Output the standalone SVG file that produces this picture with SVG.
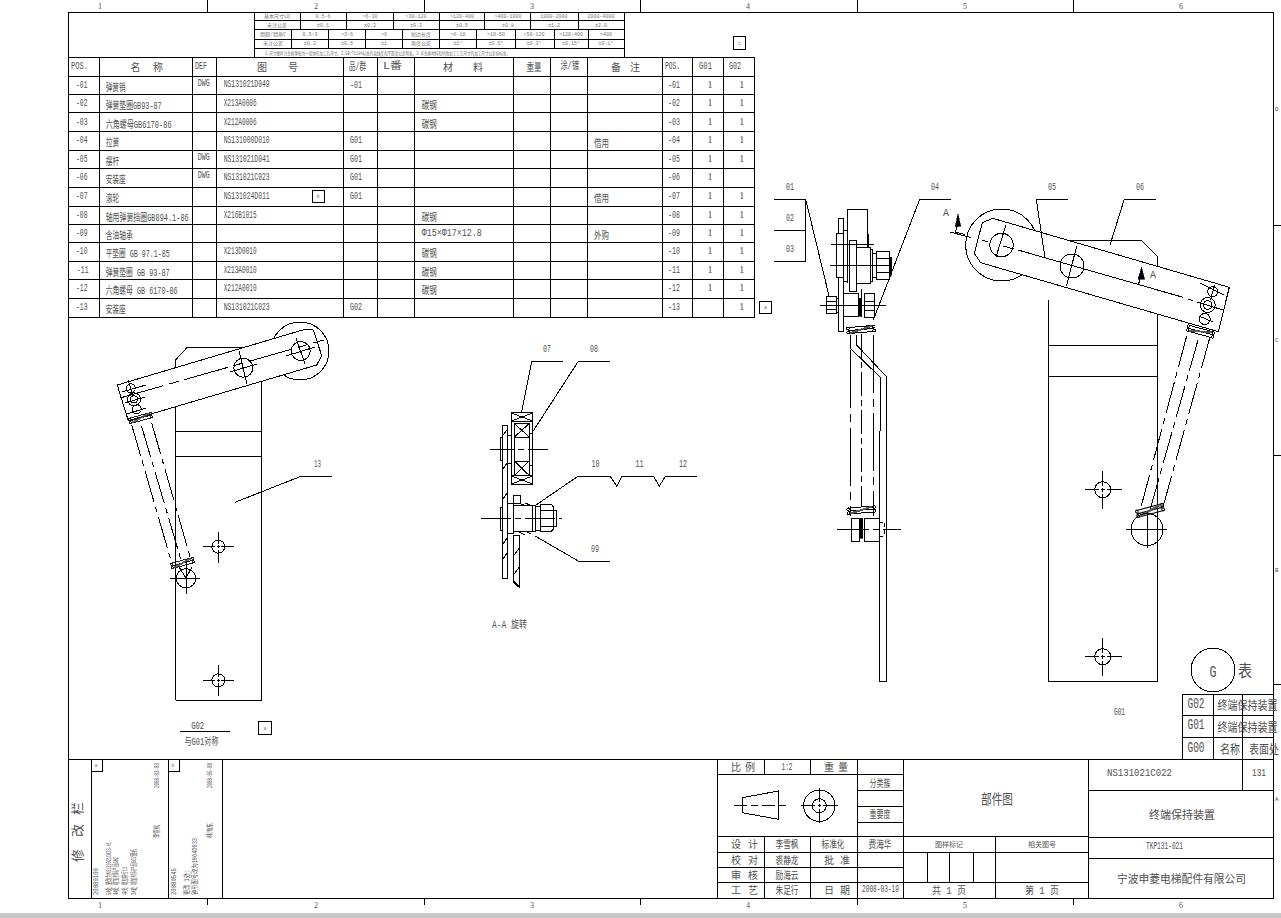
<svg xmlns="http://www.w3.org/2000/svg" width="1281" height="918" viewBox="0 0 1281 918" shape-rendering="crispEdges">
<style>
text{font-family:"Liberation Mono","Noto Sans CJK SC",monospace;font-size:10px;fill:#505050}
.s{font-size:5px;fill:#777}
.m{font-size:7px;fill:#555}
.h{font-size:10px}
.c{text-anchor:middle}
.q{text-anchor:middle;font-family:"Liberation Serif","Noto Sans CJK SC",serif}
.z{text-anchor:middle;font-family:"Liberation Serif",serif;font-size:8px}
.y{font-size:6px}
.k{fill:none;stroke:#000;stroke-width:1}
.f{fill:#fff;stroke:#000;stroke-width:1}
.d{fill:#000;stroke:#000;stroke-width:.6}
.ph{fill:none;stroke:#000;stroke-width:1;stroke-dasharray:32 5 6 5}
.cl{fill:none;stroke:#000;stroke-width:1;stroke-dasharray:45 6 10 6}
.da{fill:none;stroke:#000;stroke-width:1;stroke-dasharray:4 3}
</style>
<defs>
<g id="coil" class="k"><path d="M-13-3L13-3M-13 0L13 0M-13 3L13 3"/><circle cx="-13" cy="-2" r="1.3"/><circle cx="-13" cy="2" r="1.3"/><circle cx="13" cy="-2" r="1.3"/><circle cx="13" cy="2" r="1.3"/><path d="M-11 2L11-3M-11 3L11-2" stroke="#555"/></g>
<g id="hole"><circle class="k" r="8"/><path class="k" d="M-18 0H-4M4 0H19M0-19V-4M0 4V19M-2 0H2M0-2V2"/></g>
<g id="hole2"><circle class="k" r="6.5"/><path class="k" d="M-15 0H-3M3 0H16M0-15V-3M0 3V16M-1.500 0H1.500M0-1.500V1.500"/></g>
</defs>
<rect id="band" x="0" y="913" width="1281" height="5" fill="#c8c8c8"/>
<g id="frame">
<path class="k" d="M68 12H1273V898H68ZM207 0V12M424 0V12M640 0V12M857 0V12M1073 0V12M207 898V905M424 898V905M640 898V905M857 898V905M1073 898V905M1273 225H1281M1273 455H1281M1273 684H1281"/>
</g>
<g id="zones">
<text x="100" y="9" class="z">1</text><text x="316" y="9" class="z">2</text><text x="532" y="9" class="z">3</text><text x="748" y="9" class="z">4</text><text x="965" y="9" class="z">5</text><text x="1181" y="9" class="z">6</text>
<text x="100" y="908" class="z">1</text><text x="316" y="908" class="z">2</text><text x="532" y="908" class="z">3</text><text x="748" y="908" class="z">4</text><text x="965" y="908" class="z">5</text><text x="1181" y="908" class="z">6</text>
<text class="y" x="1275" y="111">D</text><text class="y" x="1275" y="342">C</text><text class="y" x="1275" y="572">B</text><text class="y" x="1275" y="801">A</text>
</g>
<g id="tolerance-table">
<path class="k" d="M254.500 11.500V57M624.500 11.500V57M254.500 20.700H624.500M254.500 29.700H624.500M254.500 39H624.500M254.500 48H624.500M300 11.500V29.700M346 11.500V29.700M393.300 11.500V29.700M439 11.500V48M484.700 11.500V29.700M530.700 11.500V29.700M578.300 11.500V29.700M291.700 29.700V48M328.300 29.700V48M365.300 29.700V48M402.700 29.700V48M476.700 29.700V48M515 29.700V48M554 29.700V48M588.300 29.700V48"/>
<g class="s">
<text class="s c" x="277" y="18">基本尺寸LD</text><text class="s c" x="323" y="18">0.5-6</text><text class="s c" x="370" y="18">&gt;6-30</text><text class="s c" x="416" y="18">&gt;30-120</text><text class="s c" x="462" y="18">&gt;120-400</text><text class="s c" x="508" y="18">&gt;400-1000</text><text class="s c" x="554" y="18">1000-2000</text><text class="s c" x="601" y="18">2000-4000</text>
<text class="s c" x="277" y="27">未注公差</text><text class="s c" x="323" y="27">±0.1</text><text class="s c" x="370" y="27">±0.2</text><text class="s c" x="416" y="27">±0.3</text><text class="s c" x="462" y="27">±0.5</text><text class="s c" x="508" y="27">±0.8</text><text class="s c" x="554" y="27">±1.2</text><text class="s c" x="601" y="27">±2.0</text>
<text class="s c" x="273" y="36">倒圆/倒角C</text><text class="s c" x="310" y="36">0.5-3</text><text class="s c" x="347" y="36">&gt;3-6</text><text class="s c" x="384" y="36">&gt;6</text><text class="s c" x="421" y="36">短边长度</text><text class="s c" x="458" y="36">&gt;6-10</text><text class="s c" x="496" y="36">&gt;10-50</text><text class="s c" x="534" y="36">&gt;50-120</text><text class="s c" x="571" y="36">&gt;120-400</text><text class="s c" x="606" y="36">&gt;400</text>
<text class="s c" x="273" y="45">未注公差</text><text class="s c" x="310" y="45">±0.2</text><text class="s c" x="347" y="45">±0.5</text><text class="s c" x="384" y="45">±1</text><text class="s c" x="421" y="45">角度公差</text><text class="s c" x="458" y="45">±1°</text><text class="s c" x="496" y="45">±0.5°</text><text class="s c" x="534" y="45">±0.3°</text><text class="s c" x="571" y="45">±0.15°</text><text class="s c" x="606" y="45">±0.1°</text>
<text class="s" x="265" y="54.500" textLength="245" lengthAdjust="spacingAndGlyphs">1.尺寸图样注金属薄板为一般钟形加工后尺寸。2.GB/T1184标准的直线度和平面度公差附表。3.非金属材料和特殊加工工艺尺寸的加工尺寸公差按标准。</text>
</g>
</g>
<g id="rev-c"><rect class="k" x="733.500" y="36.500" width="12" height="12.500"/><text class="s c" x="739.500" y="45">c</text></g>
<g id="parts-table">
<path class="k" d="M68 57H754.500V317H68M68 76H754.500M68 94H754.500M68 112.500H754.500M68 131H754.500M68 150H754.500M68 168H754.500M68 187H754.500M68 206H754.500M68 224H754.500M68 242H754.500M68 261H754.500M68 279H754.500M68 298H754.500M99.300 57V317M192.700 57V317M216 57V317M343 57V317M377 57V317M414 57V317M513 57V317M550 57V317M587 57V317M662 57V317M692 57V317M723 57V317"/>
<g id="parts-head">
<text x="71" y="69" textLength="17" lengthAdjust="spacingAndGlyphs">POS.</text>
<text class="h" x="130.500 153" y="71">名称</text>
<text x="195" y="69" textLength="12" lengthAdjust="spacingAndGlyphs">DEF</text>
<text class="h" x="257 288" y="71">图号</text>
<text x="349" y="70" textLength="17" lengthAdjust="spacingAndGlyphs">品/群</text>
<text x="383" y="69" textLength="19" lengthAdjust="spacingAndGlyphs">L番</text>
<text class="h" x="443 473" y="71">材料</text>
<text x="526.500" y="71" textLength="15" lengthAdjust="spacingAndGlyphs">重量</text>
<text x="560.500" y="69" textLength="18.500" lengthAdjust="spacingAndGlyphs">涂/镀</text>
<text class="h" x="611 630" y="71">备注</text>
<text x="665" y="69" textLength="15" lengthAdjust="spacingAndGlyphs">POS.</text>
<text x="699" y="69" textLength="13" lengthAdjust="spacingAndGlyphs">G01</text>
<text x="729" y="69" textLength="12" lengthAdjust="spacingAndGlyphs">G02</text>
</g>
<g id="parts-pos">
<text x="76" y="88" textLength="11.500" lengthAdjust="spacingAndGlyphs">-01</text>
<text x="76" y="106" textLength="11.500" lengthAdjust="spacingAndGlyphs">-02</text>
<text x="76" y="124.500" textLength="11.500" lengthAdjust="spacingAndGlyphs">-03</text>
<text x="76" y="143" textLength="11.500" lengthAdjust="spacingAndGlyphs">-04</text>
<text x="76" y="162" textLength="11.500" lengthAdjust="spacingAndGlyphs">-05</text>
<text x="76" y="180" textLength="11.500" lengthAdjust="spacingAndGlyphs">-06</text>
<text x="76" y="199" textLength="11.500" lengthAdjust="spacingAndGlyphs">-07</text>
<text x="76" y="218" textLength="11.500" lengthAdjust="spacingAndGlyphs">-08</text>
<text x="76" y="236" textLength="11.500" lengthAdjust="spacingAndGlyphs">-09</text>
<text x="76" y="254" textLength="11.500" lengthAdjust="spacingAndGlyphs">-10</text>
<text x="77" y="273" textLength="11.500" lengthAdjust="spacingAndGlyphs">-11</text>
<text x="76" y="291" textLength="11.500" lengthAdjust="spacingAndGlyphs">-12</text>
<text x="76" y="310" textLength="11.500" lengthAdjust="spacingAndGlyphs">-13</text>
</g>
<g id="parts-names">
<text x="105.700" y="91" textLength="20" lengthAdjust="spacingAndGlyphs">弹簧销</text>
<text x="105.700" y="109" textLength="56" lengthAdjust="spacingAndGlyphs">弹簧垫圈GB93-87</text>
<text x="105.700" y="127.500" textLength="66" lengthAdjust="spacingAndGlyphs">六角螺母GB6170-86</text>
<text x="105.700" y="146" textLength="13.500" lengthAdjust="spacingAndGlyphs">拉簧</text>
<text x="105.700" y="165" textLength="13.500" lengthAdjust="spacingAndGlyphs">摆杆</text>
<text x="105.700" y="183" textLength="20" lengthAdjust="spacingAndGlyphs">安装座</text>
<text x="105.700" y="202" textLength="13.500" lengthAdjust="spacingAndGlyphs">滚轮</text>
<text x="105.700" y="221" textLength="83" lengthAdjust="spacingAndGlyphs">轴用弹簧挡圈GB894.1-86</text>
<text x="105.700" y="239" textLength="27" lengthAdjust="spacingAndGlyphs">含油轴承</text>
<text x="105.700" y="257" textLength="64" lengthAdjust="spacingAndGlyphs">平垫圈 GB 97.1-85</text>
<text x="105.700" y="276" textLength="64" lengthAdjust="spacingAndGlyphs">弹簧垫圈 GB 93-87</text>
<text x="105.700" y="294" textLength="72" lengthAdjust="spacingAndGlyphs">六角螺母 GB 6170-86</text>
<text x="105.700" y="313" textLength="20" lengthAdjust="spacingAndGlyphs">安装座</text>
</g>
<g id="parts-def">
<text x="197.700" y="86" textLength="12" lengthAdjust="spacingAndGlyphs">DWG</text>
<text x="197.700" y="160" textLength="12" lengthAdjust="spacingAndGlyphs">DWG</text>
<text x="197.700" y="178" textLength="12" lengthAdjust="spacingAndGlyphs">DWG</text>
</g>
<g id="parts-dwg">
<text x="223.700" y="87" textLength="46" lengthAdjust="spacingAndGlyphs">NS131021D049</text>
<text x="223.700" y="106" textLength="33" lengthAdjust="spacingAndGlyphs">X213A0006</text>
<text x="223.700" y="124.500" textLength="33" lengthAdjust="spacingAndGlyphs">X212A0006</text>
<text x="223.700" y="143" textLength="46" lengthAdjust="spacingAndGlyphs">NS131000D010</text>
<text x="223.700" y="162" textLength="46" lengthAdjust="spacingAndGlyphs">NS131021D041</text>
<text x="223.700" y="180" textLength="46" lengthAdjust="spacingAndGlyphs">NS131021C023</text>
<text x="223.700" y="199" textLength="46" lengthAdjust="spacingAndGlyphs">NS131024D011</text>
<text x="223.700" y="218" textLength="33" lengthAdjust="spacingAndGlyphs">X216B1015</text>
<text x="223.700" y="254" textLength="33" lengthAdjust="spacingAndGlyphs">X213D0010</text>
<text x="223.700" y="273" textLength="33" lengthAdjust="spacingAndGlyphs">X213A0010</text>
<text x="223.700" y="291" textLength="33" lengthAdjust="spacingAndGlyphs">X212A0010</text>
<text x="223.700" y="310" textLength="46" lengthAdjust="spacingAndGlyphs">NS131021C023</text>
</g>
<g id="parts-group">
<text x="350" y="88" textLength="12" lengthAdjust="spacingAndGlyphs">-01</text>
<text x="350" y="143" textLength="12" lengthAdjust="spacingAndGlyphs">G01</text>
<text x="350" y="162" textLength="12" lengthAdjust="spacingAndGlyphs">G01</text>
<text x="350" y="180" textLength="12" lengthAdjust="spacingAndGlyphs">G01</text>
<text x="350" y="199" textLength="12" lengthAdjust="spacingAndGlyphs">G01</text>
<text x="350" y="310" textLength="12" lengthAdjust="spacingAndGlyphs">G02</text>
</g>
<g id="parts-mat">
<text x="421.700" y="109" textLength="15" lengthAdjust="spacingAndGlyphs">碳钢</text>
<text x="421.700" y="127.500" textLength="15" lengthAdjust="spacingAndGlyphs">碳钢</text>
<text x="421.700" y="221" textLength="15" lengthAdjust="spacingAndGlyphs">碳钢</text>
<text x="421.700" y="236" textLength="60" lengthAdjust="spacingAndGlyphs">Φ15×Φ17×12.8</text>
<text x="421.700" y="257" textLength="15" lengthAdjust="spacingAndGlyphs">碳钢</text>
<text x="421.700" y="276" textLength="15" lengthAdjust="spacingAndGlyphs">碳钢</text>
<text x="421.700" y="294" textLength="15" lengthAdjust="spacingAndGlyphs">碳钢</text>
<text x="594" y="147" textLength="15" lengthAdjust="spacingAndGlyphs">借用</text>
<text x="594" y="202" textLength="15" lengthAdjust="spacingAndGlyphs">借用</text>
<text x="594" y="239" textLength="15" lengthAdjust="spacingAndGlyphs">外购</text>
</g>
<g id="parts-qty">
<text x="668" y="88" textLength="12" lengthAdjust="spacingAndGlyphs">-01</text><text x="668" y="106" textLength="12" lengthAdjust="spacingAndGlyphs">-02</text><text x="668" y="124.500" textLength="12" lengthAdjust="spacingAndGlyphs">-03</text><text x="668" y="143" textLength="12" lengthAdjust="spacingAndGlyphs">-04</text><text x="668" y="162" textLength="12" lengthAdjust="spacingAndGlyphs">-05</text><text x="668" y="180" textLength="12" lengthAdjust="spacingAndGlyphs">-06</text><text x="668" y="199" textLength="12" lengthAdjust="spacingAndGlyphs">-07</text><text x="668" y="218" textLength="12" lengthAdjust="spacingAndGlyphs">-08</text><text x="668" y="236" textLength="12" lengthAdjust="spacingAndGlyphs">-09</text><text x="668" y="254" textLength="12" lengthAdjust="spacingAndGlyphs">-10</text><text x="668" y="273" textLength="12" lengthAdjust="spacingAndGlyphs">-11</text><text x="668" y="291" textLength="12" lengthAdjust="spacingAndGlyphs">-12</text><text x="668" y="310" textLength="12" lengthAdjust="spacingAndGlyphs">-13</text>
<text class="q" x="710" y="88">1</text><text class="q" x="710" y="106">1</text><text class="q" x="710" y="124.500">1</text><text class="q" x="710" y="143">1</text><text class="q" x="710" y="162">1</text><text class="q" x="710" y="180">1</text><text class="q" x="710" y="199">1</text><text class="q" x="710" y="218">1</text><text class="q" x="710" y="236">1</text><text class="q" x="710" y="254">1</text><text class="q" x="710" y="273">1</text><text class="q" x="710" y="291">1</text>
<text class="q" x="741.700" y="88">1</text><text class="q" x="741.700" y="106">1</text><text class="q" x="741.700" y="124.500">1</text><text class="q" x="741.700" y="143">1</text><text class="q" x="741.700" y="162">1</text><text class="q" x="741.700" y="199">1</text><text class="q" x="741.700" y="218">1</text><text class="q" x="741.700" y="236">1</text><text class="q" x="741.700" y="254">1</text><text class="q" x="741.700" y="273">1</text><text class="q" x="741.700" y="291">1</text><text class="q" x="741.700" y="310">1</text>
</g>
</g>
<g id="rev-b"><rect class="k" x="312" y="190" width="12" height="12.500"/><text class="s c" x="318" y="198">b</text></g>
<g id="rev-a"><rect class="k" x="759.500" y="301" width="12" height="12"/><text class="s c" x="765.500" y="309">a</text></g>

<g id="view-g02">
<path class="k" d="M175.500 700V360L187.300 347.300H246.700M261.500 375V700H175.500M175.500 431.300H261.500M175.500 456.300H261.500"/>
<circle class="f" cx="300" cy="351" r="29"/>
<path class="f" d="M117.300 385L305 329.300L313.300 330L321.700 355.700L316.700 365L128.300 420.700Z"/>
<circle class="k" cx="300.700" cy="351" r="9.500"/><circle class="k" cx="243.300" cy="367.700" r="9.500"/>
<path class="k" d="M239 351L247 384M296 338L305 364M230 372L257 364M286 356L315 347"/>
<path class="cl" d="M120 398L324 340"/>
<circle class="k" cx="130.700" cy="388.300" r="4.500"/><circle class="k" cx="134" cy="399.300" r="6.500"/><circle class="k" cx="134" cy="399.300" r="3.500"/><circle class="k" cx="136.700" cy="409.300" r="4.500"/>
<path class="k" d="M128 380L133 396M122 392L146 385M125 403L145 397M127 414L146 408"/>
<use href="#coil" transform="translate(140.500 418) rotate(-15) scale(.85 .9)"/>
<path class="ph" d="M131.700 425L171.700 563M141.500 426L181 560M151.700 423L190.700 559"/>
<use href="#coil" transform="translate(182.500 563) rotate(-15) scale(.85 .9)"/>
<circle class="k" cx="186" cy="578.300" r="9.700"/>
<path class="k" d="M170 578.300H200M186 561V594M179 567L186 578M192 567L186 578"/>
<use href="#hole2" transform="translate(218.300 546.700)"/>
<use href="#hole2" transform="translate(218.300 680.300)"/>
<path class="k" d="M235 502.300L301.700 476H331.700"/>
<text x="314" y="467" textLength="7" lengthAdjust="spacingAndGlyphs">13</text>
<path class="k" d="M180 731H230"/>
<text class="c" x="197.700" y="729" textLength="13" lengthAdjust="spacingAndGlyphs">G02</text>
<text x="184.500" y="745" textLength="34" lengthAdjust="spacingAndGlyphs">与G01对称</text>
<rect class="k" x="258.500" y="721.500" width="13" height="13"/><text class="s c" x="265" y="730">a</text>
</g>

<g id="section-aa">
<path class="f" d="M502.300 425H507.700V578.300H502.300Z"/>
<path class="k" d="M502.300 436L507.700 429M502.300 470L507.700 462M502.300 500L507.700 492M502.300 545L507.700 537M502.300 560L507.700 552"/>
<rect class="f" x="500" y="437" width="2.300" height="23"/><rect class="f" x="507.700" y="435" width="6.600" height="28.300"/>
<rect class="f" x="511.300" y="412.700" width="21.400" height="71.300"/>
<path class="k" d="M511.300 421H532.700M514.300 423.500H529.300V475.500H514.300ZM514.300 437H529.300M514.300 461H529.300M511.300 475.500H532.700M511.300 413L532.700 421M511.300 421L532.700 413M514.300 423.500L529.300 437M514.300 437L529.300 423.500M514.300 461L529.300 475.500M514.300 475.500L529.300 461M511.300 476L532.700 484M511.300 484L532.700 476"/>
<rect class="f" x="529.300" y="433" width="3.400" height="32"/>
<path class="cl" d="M490 449.300H547.700" style="stroke-dasharray:24 4 6 4"/>
<rect class="f" x="500" y="507.700" width="2.300" height="22.300"/>
<rect class="f" x="507.700" y="503.300" width="5.600" height="30"/>
<rect class="f" x="513.300" y="495" width="6.700" height="8"/>
<path class="f" d="M513.300 505H532.700V531.700H513.300Z"/>
<rect class="f" x="532.700" y="505" width="3" height="26.700"/>
<rect class="f" x="535.700" y="506.700" width="4.300" height="23.300"/>
<path class="f" d="M540 504H551L553.300 507V529L551 531.700H540Z"/><path class="k" d="M540 510H553.300M540 526H553.300"/>
<rect class="f" x="553.300" y="510" width="2.700" height="16.700"/>
<path class="k" d="M518 503L524 505M525 503L530 505M519 532L525 535M527 532L531 534"/>
<path class="f" d="M513.300 535H519.300V586.700L513.300 581Z"/>
<path class="k" d="M513.300 556L519.300 548M513.300 575L519.300 567M513 582L520 588"/>
<path class="cl" d="M481 518.300H561.700" style="stroke-dasharray:30 4 6 4"/>
<path class="k" d="M502.300 578.300H507.700"/>
<path class="k" d="M531.700 361.300H562.700M531.700 361.300L521.700 411.700M578.300 361.300H610M578.300 361.300L531.700 433.300M578.300 476H610L616.700 486L622.300 476H653.300L659.300 486L665.700 476H696.700M578.300 476L535 505.700M578.300 561H610M578.300 561L535 536"/>
<text x="543" y="352" textLength="8" lengthAdjust="spacingAndGlyphs">07</text>
<text x="590" y="352" textLength="8" lengthAdjust="spacingAndGlyphs">08</text>
<text x="591.500" y="467" textLength="8" lengthAdjust="spacingAndGlyphs">10</text>
<text x="635.500" y="467" textLength="8" lengthAdjust="spacingAndGlyphs">11</text>
<text x="679" y="467" textLength="8" lengthAdjust="spacingAndGlyphs">12</text>
<text x="591" y="552" textLength="8" lengthAdjust="spacingAndGlyphs">09</text>
<text x="492" y="628" textLength="35" lengthAdjust="spacingAndGlyphs">A-A 旋转</text>
</g>

<g id="view-side">
<path class="k" d="M774 199.300H805.700V261H774M774 230.700H805.700M805.700 199.300L830 300M919.700 199.300H951M919.700 199.300L873.300 320"/>
<text x="786" y="190" textLength="8" lengthAdjust="spacingAndGlyphs">01</text>
<text x="786" y="221" textLength="8" lengthAdjust="spacingAndGlyphs">02</text>
<text x="786" y="252" textLength="8" lengthAdjust="spacingAndGlyphs">03</text>
<text x="931" y="190" textLength="8" lengthAdjust="spacingAndGlyphs">04</text>
<path class="k" d="M847.300 282.700V209.300H867.700V282.700"/>
<rect class="f" x="838.300" y="218.300" width="5" height="113.400"/>
<rect class="f" x="836" y="233.300" width="7.300" height="44"/>
<rect class="f" x="843.300" y="230" width="4" height="51.700"/>
<rect class="f" x="856.700" y="247.300" width="13.300" height="36"/>
<rect class="f" x="849.300" y="240" width="7.400" height="51.700"/>
<rect class="f" x="870" y="249.300" width="2.700" height="32.400"/>
<rect class="f" x="872.700" y="253.300" width="4" height="24"/>
<rect class="f" x="876.700" y="251" width="12.300" height="28.300"/><path class="k" d="M876.700 258H889M876.700 272H889"/>
<rect class="d" x="889" y="257.300" width="2.600" height="17.700"/>
<path class="k" d="M831 244.300H874M830 265.300H889M868 234V248" />
<rect class="f" x="826" y="296.700" width="10" height="16.600"/><path class="k" d="M826 301H836M826 309H836"/>
<rect class="f" x="836" y="298" width="2.300" height="14"/>
<rect class="f" x="843.300" y="293.300" width="15" height="23.400"/>
<rect class="d" x="858.300" y="298" width="3.400" height="18"/>
<rect class="f" x="864" y="293.300" width="10" height="24.400"/><path class="k" d="M864 301.700H874M864 310H874"/>
<path class="k" d="M820 305H885.700M861.300 289.300V317"/>
<path class="k" d="M850 335V348L880 377V431M856.700 335V345L886.700 377V681.300H879.300V431"/>
<use href="#coil" transform="translate(861 329.500) rotate(-5)"/>
<path class="k" d="M850.300 350V516" style="stroke-dasharray:58 6 8 6"/>
<path class="k" d="M861.300 334V506" style="stroke-dasharray:24 4 6 4"/>
<path class="k" d="M873.300 335V516" style="stroke-dasharray:58 6 8 6"/>
<use href="#coil" transform="translate(861.300 510) rotate(-5)"/>
<rect class="f" x="851" y="518.300" width="8.300" height="23.400"/>
<rect class="d" x="859.300" y="518.300" width="3.400" height="20"/>
<rect class="f" x="864" y="518.300" width="15.300" height="23.400"/>
<path class="da" d="M879.300 522.500H886M879.300 536.500H886M884.500 522.500V536.500"/>
<path class="k" d="M837.300 529.300H901" style="stroke-dasharray:32 4 6 4"/>
</g>

<g id="view-g01">
<path class="k" d="M1070 240.700H1141.700L1157 256V681H1048.700V300M1048.700 345H1157M1048.700 376H1157"/>
<circle class="f" cx="1001.700" cy="245" r="36"/>
<path class="f" d="M992.700 218.300L1229.300 287.300L1218.300 331.700L980.700 262.700L974.300 253.300L982.300 222.700Z"/>
<circle class="k" cx="1001.500" cy="245" r="11.700"/><circle class="k" cx="1072" cy="266" r="12"/>
<path class="k" d="M1006 225L996 257M1076.700 246L1066.500 286M950 232L971.300 237.700M981.700 240L988 242M1003 246L1014 249M1018 250L1183 297.300M1188 299L1193 300.500M1197 302L1223 310" />
<circle class="k" cx="1212.700" cy="291.700" r="5"/><circle class="k" cx="1207.700" cy="305" r="7.500"/><circle class="k" cx="1207.700" cy="305" r="4.300"/><circle class="k" cx="1204.700" cy="319" r="5.500"/>
<path class="k" d="M1214.500 285L1210.500 300M1200 283L1224 295M1199 316L1213 322"/>
<use href="#coil" transform="translate(1200.500 331.500) rotate(15)"/>
<path class="ph" d="M1186.700 336L1141 507M1198 340L1150 510M1210 337L1163 507"/>
<use href="#coil" transform="translate(1150 510.500) rotate(-15) scale(1 1.150)"/>
<circle class="k" cx="1147" cy="529.500" r="16"/>
<path class="k" d="M1126 529.500H1167M1147 512V548"/>
<use href="#hole" transform="translate(1102.700 489.700)"/>
<use href="#hole" transform="translate(1102.700 656.700)"/>
<path class="d" d="M958 214L955.300 226H960.700Z"/><path class="k" d="M957.700 224L955.500 232L965 234.500"/>
<path class="d" d="M1141.700 267.300L1138 279H1144.500Z"/><path class="k" d="M1140 279L1138.300 285"/>
<text x="943" y="216" textLength="6" lengthAdjust="spacingAndGlyphs">A</text>
<text x="1150" y="278" textLength="6" lengthAdjust="spacingAndGlyphs">A</text>
<path class="k" d="M1036.300 199.300H1068M1036.300 199.300L1045 258M1124.300 199.300H1156M1124.300 199.300L1110 245"/>
<text x="1048" y="190" textLength="8" lengthAdjust="spacingAndGlyphs">05</text>
<text x="1136" y="190" textLength="8" lengthAdjust="spacingAndGlyphs">06</text>
<text x="1114" y="715" textLength="11" lengthAdjust="spacingAndGlyphs">G01</text>
</g>

<g id="finish-table">
<circle class="k" cx="1213" cy="670" r="22"/>
<text x="1209.500" y="677" style="font-size:17px" textLength="7" lengthAdjust="spacingAndGlyphs">G</text>
<text x="1238" y="677" style="font-size:17px" textLength="14" lengthAdjust="spacingAndGlyphs">表</text>
<path class="k" d="M1182 759V694H1273M1182 715H1273M1182 737H1273M1213 694V759M1242 694V759"/>
<text x="1187.500" y="708" style="font-size:14px" textLength="17" lengthAdjust="spacingAndGlyphs">G02</text>
<text x="1187.500" y="729" style="font-size:14px" textLength="17" lengthAdjust="spacingAndGlyphs">G01</text>
<text x="1187.500" y="752" style="font-size:14px" textLength="17" lengthAdjust="spacingAndGlyphs">G00</text>
<text transform="translate(1217.500 710) scale(1 1.250)" textLength="60" lengthAdjust="spacingAndGlyphs">终端保持装置</text>
<text transform="translate(1217.500 732) scale(1 1.250)" textLength="60" lengthAdjust="spacingAndGlyphs">终端保持装置</text>
<text transform="translate(1220 754) scale(1 1.250)" textLength="20" lengthAdjust="spacingAndGlyphs">名称</text>
<text transform="translate(1249 754) scale(1 1.250)" textLength="30" lengthAdjust="spacingAndGlyphs">表面处</text>
</g>

<g id="revisions">
<path class="k" d="M68 759H1273M91 759V898M168 759V898M222 759V898M91 771H102V759M168 771H179V759"/>
<text transform="translate(82 862) rotate(-90)" style="font-size:13px" x="0 25 47" y="0">修改栏</text>
<text class="s c" x="96" y="767">a</text><text class="s c" x="173" y="767">b</text>
<g class="m">
<text class="m" transform="translate(159 788) rotate(-90)" textLength="25" lengthAdjust="spacingAndGlyphs">2008-03-03</text>
<text class="m" transform="translate(159 838) rotate(-90)" textLength="13" lengthAdjust="spacingAndGlyphs">李雪枫</text>
<text class="m" transform="translate(98 895) rotate(-90)" textLength="27" lengthAdjust="spacingAndGlyphs">20080100</text>
<text class="m" transform="translate(110.500 895) rotate(-90)" textLength="53" lengthAdjust="spacingAndGlyphs">5A处 更改为NS131021C023-H1</text>
<text class="m" transform="translate(118 895) rotate(-90)" textLength="38" lengthAdjust="spacingAndGlyphs">4A处 增加材料产品G02</text>
<text class="m" transform="translate(127 895) rotate(-90)" textLength="28" lengthAdjust="spacingAndGlyphs">4A处 增加排行13</text>
<text class="m" transform="translate(136 895) rotate(-90)" textLength="46" lengthAdjust="spacingAndGlyphs">3A处 增加材料产品G02图纸</text>
<text class="m" transform="translate(212 788) rotate(-90)" textLength="25" lengthAdjust="spacingAndGlyphs">2008-05-08</text>
<text class="m" transform="translate(212 838) rotate(-90)" textLength="15" lengthAdjust="spacingAndGlyphs">林海东</text>
<text class="m" transform="translate(176 895) rotate(-90)" textLength="27" lengthAdjust="spacingAndGlyphs">20080545</text>
<text class="m" transform="translate(189 895) rotate(-90)" textLength="25" lengthAdjust="spacingAndGlyphs">更改 1处:</text>
<text class="m" transform="translate(197 895) rotate(-90)" textLength="57" lengthAdjust="spacingAndGlyphs">钟形图号改为1064D033</text>
</g>
</g>

<g id="title-block">
<path class="k" d="M717 759V898H1273M717 774H857M717 836H1088M717 852H903M717 867H903M717 882H1088M764 759V774M810 759V774M764 836V898M810 836V898M857 759V898M903 759V898M857 774H903M857 790H903M857 806H903M857 822H903M903 852H1088M995.700 836V898M927 852V882M949 852V882M973 852V882M1088 759V898M1088 790H1273M1088 837H1273M1088 858H1273M1242 759V790"/>
<path class="k" d="M742.300 797.700L778.300 791V819.300L742.300 812.700Z"/>
<path class="k" d="M734 805.700H787.300" style="stroke-dasharray:13 4 7 4"/>
<circle class="k" cx="819.300" cy="805.700" r="15.700"/><circle class="k" cx="819.300" cy="805.700" r="7"/>
<path class="k" d="M801 805.700H815M823 805.700H837.700M819.300 788V802M819.300 809V823M817.800 805.700H820.800M819.300 804.200V807.200"/>
<text x="731 745" y="771">比例</text>
<text class="c" x="787" y="770" textLength="11" lengthAdjust="spacingAndGlyphs">1:2</text>
<text x="824 838" y="771">重量</text>
<text class="c" x="880" y="787" textLength="21" lengthAdjust="spacingAndGlyphs">分类簇</text>
<text class="c" x="880" y="818" textLength="21" lengthAdjust="spacingAndGlyphs">重要度</text>
<text class="c" x="997" y="804" style="font-size:14px" textLength="32" lengthAdjust="spacingAndGlyphs">部件图</text>
<text x="731 748" y="848">设计</text>
<text class="c" x="787" y="848" textLength="23" lengthAdjust="spacingAndGlyphs">李雪枫</text>
<text class="c" x="833" y="848" textLength="23" lengthAdjust="spacingAndGlyphs">标准化</text>
<text class="c" x="880" y="848" textLength="23" lengthAdjust="spacingAndGlyphs">费海华</text>
<text class="c m" x="949" y="847">图样标记</text>
<text class="c m" x="1042" y="847">相关图号</text>
<text x="731 748" y="864">校对</text>
<text class="c" x="787" y="864" textLength="23" lengthAdjust="spacingAndGlyphs">裘静龙</text>
<text x="824 840" y="864">批准</text>
<text x="731 748" y="879">审核</text>
<text class="c" x="787" y="879" textLength="23" lengthAdjust="spacingAndGlyphs">励海云</text>
<text x="731 748" y="894">工艺</text>
<text class="c" x="787" y="894" textLength="23" lengthAdjust="spacingAndGlyphs">朱足行</text>
<text x="824 840" y="894">日期</text>
<text x="862" y="892" textLength="37" lengthAdjust="spacingAndGlyphs">2008-03-19</text>
<text x="932" y="894" textLength="34" lengthAdjust="spacingAndGlyphs">共 1 页</text>
<text x="1025" y="894" textLength="34" lengthAdjust="spacingAndGlyphs">第 1 页</text>
<text x="1107" y="776" style="font-size:11px" textLength="65" lengthAdjust="spacingAndGlyphs">NS131021C022</text>
<text x="1252" y="776" style="font-size:11px" textLength="14" lengthAdjust="spacingAndGlyphs">131</text>
<text class="c" x="1182" y="819" style="font-size:11px">终端保持装置</text>
<text x="1146" y="849" textLength="37" lengthAdjust="spacingAndGlyphs">TKP131-021</text>
<text x="1117" y="883" style="font-size:11px" textLength="129" lengthAdjust="spacingAndGlyphs">宁波申菱电梯配件有限公司</text>
</g>
</svg>
